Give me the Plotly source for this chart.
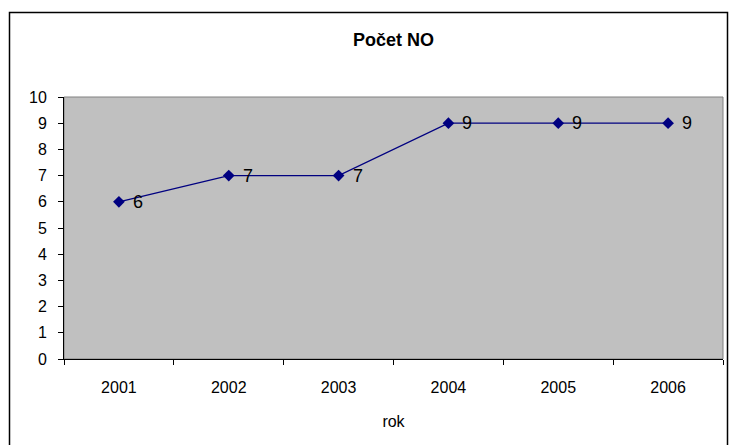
import plotly.graph_objects as go

# Number of NO per year
years = ["2001", "2002", "2003", "2004", "2005", "2006"]
counts = [6, 7, 7, 9, 9, 9]
y_ticks = list(range(0, 11))

W, H = 730, 445
L, R, T, B = 64, 7, 97, 86
pw, ph = W - L - R, H - T - B

def px_x(px):
    return (px - L) / pw

def px_y(py):
    return (H - B - py) / ph

font_family = "Liberation Sans, Arial, sans-serif"
navy = "#000080"

fig = go.Figure()
fig.add_trace(go.Scatter(
    x=years, y=counts,
    mode="lines+markers",
    line=dict(color=navy, width=1.3),
    marker=dict(symbol="diamond", size=9, color=navy),
    cliponaxis=False,
    hoverinfo="skip",
))

# value labels to the right of each point (category axis uses index positions)
for i, v in enumerate(counts):
    fig.add_annotation(
        x=i, y=v, xref="x", yref="y", text=str(v), showarrow=False,
        xanchor="left", yanchor="middle", xshift=12, yshift=0,
        font=dict(family=font_family, size=18, color="black"),
    )

fig.update_layout(
    width=W, height=H,
    margin=dict(l=L, r=R, t=T, b=B),
    paper_bgcolor="white",
    plot_bgcolor="#C0C0C0",
    showlegend=False,
    font=dict(family=font_family, color="black"),
    title=dict(
        text="<b>Počet NO</b>",
        x=0.5 * (L + (W - R)) / W, xanchor="center",
        y=1 - 40 / H, yanchor="middle", yref="container",
        font=dict(size=18, family=font_family, color="black"),
    ),
    xaxis=dict(
        type="category",
        range=[-0.5, len(years) - 0.5],
        tickson="boundaries",
        ticks="outside", ticklen=5, tickcolor="black", tickwidth=1,
        showline=True, linecolor="black", linewidth=1,
        showgrid=False, zeroline=False,
        tickfont=dict(size=16, family=font_family, color="black"),
        ticklabelstandoff=14,
        title=dict(text="rok", standoff=20,
                   font=dict(size=16, family=font_family, color="black")),
        fixedrange=True,
    ),
    yaxis=dict(
        range=[0, 10],
        tickvals=y_ticks,
        ticks="outside", ticklen=5, tickcolor="black", tickwidth=1,
        showline=True, linecolor="black", linewidth=1,
        showgrid=False, zeroline=False,
        tickfont=dict(size=16, family=font_family, color="black"),
        ticklabelstandoff=8,
        fixedrange=True,
    ),
    shapes=[
        # plot area frame
        dict(type="rect", xref="paper", yref="paper", x0=0, x1=1, y0=0, y1=1,
             line=dict(color="#808080", width=1), layer="below"),
        # chart area border
        dict(type="rect", xref="paper", yref="paper",
             x0=px_x(9.5), x1=px_x(727.5), y0=px_y(470), y1=px_y(12.5),
             line=dict(color="black", width=1.5)),
    ],
)

fig.write_html("out.html")
